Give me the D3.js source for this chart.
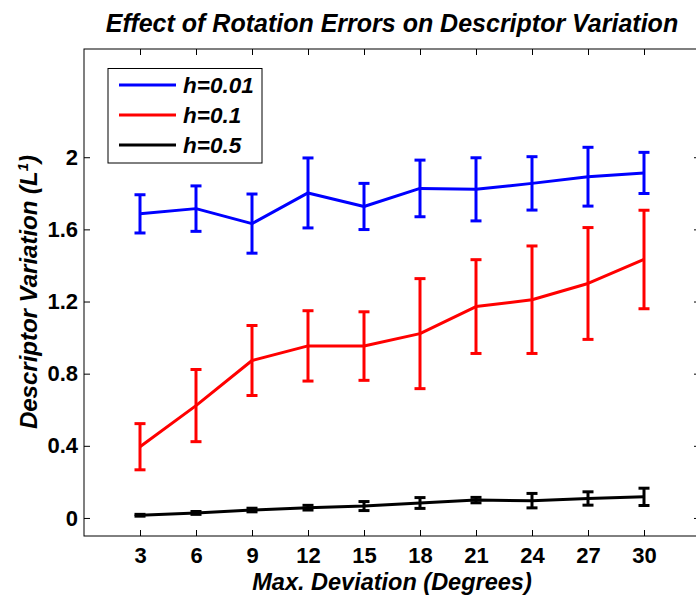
<!DOCTYPE html>
<html>
<head>
<meta charset="utf-8">
<script src="https://cdn.jsdelivr.net/npm/d3@7"></script>
<style>
  html, body { margin: 0; padding: 0; background: #fff; overflow: hidden; }
  svg { display: block; }
  text { font-family: "Liberation Sans", Arial, Helvetica, sans-serif; }
</style>
</head>
<body>
<svg id="chart" width="696" height="597"></svg>
<script>
// ---- data ----
const deviations = [3, 6, 9, 12, 15, 18, 21, 24, 27, 30];
const seriesNames = ["h=0.01", "h=0.1", "h=0.5"];
const seriesColors = ["#0000ff", "#ff0000", "#000000"];
const meanH001 = [1.686, 1.715, 1.632, 1.802, 1.727, 1.827, 1.822, 1.855, 1.892, 1.913];
const errH001  = [0.106, 0.126, 0.164, 0.194, 0.128, 0.157, 0.175, 0.148, 0.163, 0.114];
const meanH01  = [0.395, 0.623, 0.873, 0.954, 0.953, 1.022, 1.172, 1.210, 1.300, 1.433];
const errH01   = [0.128, 0.200, 0.194, 0.195, 0.190, 0.305, 0.260, 0.298, 0.310, 0.273];
const meanH05  = [0.015, 0.028, 0.044, 0.057, 0.066, 0.083, 0.099, 0.096, 0.108, 0.117];
const errH05   = [0.005, 0.008, 0.010, 0.013, 0.025, 0.030, 0.015, 0.040, 0.037, 0.048];
const xTicks = [3, 6, 9, 12, 15, 18, 21, 24, 27, 30];
const yTicks = [0, 0.4, 0.8, 1.2, 1.6, 2];
const titleText = "Effect of Rotation Errors on Descriptor Variation";
const xLabel = "Max. Deviation (Degrees)";

const series = [
  { name: seriesNames[0], color: seriesColors[0], mean: meanH001, err: errH001 },
  { name: seriesNames[1], color: seriesColors[1], mean: meanH01,  err: errH01 },
  { name: seriesNames[2], color: seriesColors[2], mean: meanH05,  err: errH05 }
];

// ---- layout ----
const L = 84, R = 700, T = 49, B = 536;
const svg = d3.select("#chart");
const x = d3.scaleLinear().domain([0, 33]).range([L, R]);
const y = d3.scaleLinear().domain([-0.1, 2.6]).range([B, T]);

// axes box
svg.append("rect").attr("x", L).attr("y", T).attr("width", R - L).attr("height", B - T)
  .attr("fill", "none").attr("stroke", "#000").attr("stroke-width", 1);

const fmtY = d => (d === 0 ? "0" : d3.format(".1f")(d).replace(/\.0$/, ""));
function styleAxis(g, showLabels) {
  g.select(".domain").remove();
  g.selectAll(".tick line").attr("stroke", "#000").attr("stroke-width", 1);
  g.selectAll(".tick text")
    .attr("font-family", "'Liberation Sans', Arial, sans-serif")
    .attr("font-weight", "bold").attr("font-size", 22).attr("fill", "#000");
  if (!showLabels) g.selectAll(".tick text").remove();
}
svg.append("g").attr("transform", `translate(0,${B})`)
  .call(d3.axisBottom(x).tickValues(xTicks).tickSize(-6).tickPadding(11).tickFormat(d3.format("d")))
  .call(g => styleAxis(g, true));
svg.append("g").attr("transform", `translate(0,${T})`)
  .call(d3.axisTop(x).tickValues(xTicks).tickSize(-6))
  .call(g => styleAxis(g, false));
svg.append("g").attr("transform", `translate(${L},0)`)
  .call(d3.axisLeft(y).tickValues(yTicks).tickSize(-6).tickPadding(6).tickFormat(fmtY))
  .call(g => styleAxis(g, true));
svg.append("g").attr("transform", `translate(${R},0)`)
  .call(d3.axisRight(y).tickValues(yTicks).tickSize(-6))
  .call(g => styleAxis(g, false));

// series
const line = d3.line().x((d, i) => x(deviations[i])).y(d => y(d));
const capW = 5.5;
series.forEach(s => {
  const g = svg.append("g");
  g.append("path").datum(s.mean).attr("d", line)
    .attr("fill", "none").attr("stroke", s.color).attr("stroke-width", 3)
    .attr("stroke-linejoin", "round");
  const eb = g.selectAll("g.eb").data(s.mean).enter().append("g");
  eb.append("line")
    .attr("x1", (d, i) => x(deviations[i])).attr("x2", (d, i) => x(deviations[i]))
    .attr("y1", (d, i) => y(d - s.err[i])).attr("y2", (d, i) => y(d + s.err[i]))
    .attr("stroke", s.color).attr("stroke-width", 3);
  eb.append("line")
    .attr("x1", (d, i) => x(deviations[i]) - capW).attr("x2", (d, i) => x(deviations[i]) + capW)
    .attr("y1", (d, i) => y(d + s.err[i])).attr("y2", (d, i) => y(d + s.err[i]))
    .attr("stroke", s.color).attr("stroke-width", 3);
  eb.append("line")
    .attr("x1", (d, i) => x(deviations[i]) - capW).attr("x2", (d, i) => x(deviations[i]) + capW)
    .attr("y1", (d, i) => y(d - s.err[i])).attr("y2", (d, i) => y(d - s.err[i]))
    .attr("stroke", s.color).attr("stroke-width", 3);
});

// legend
const lg = svg.append("g");
lg.append("rect").attr("x", 108).attr("y", 68.5).attr("width", 154).attr("height", 94.5)
  .attr("fill", "#fff").attr("stroke", "#000").attr("stroke-width", 1);
series.forEach((s, i) => {
  const yy = 85 + i * 30;
  lg.append("line").attr("x1", 119).attr("x2", 176).attr("y1", yy).attr("y2", yy)
    .attr("stroke", s.color).attr("stroke-width", 3);
  lg.append("text").attr("x", 183).attr("y", yy + 8).text(s.name)
    .attr("font-weight", "bold").attr("font-style", "italic").attr("font-size", 22.5).attr("fill", "#000");
});

// title and labels
svg.append("text").attr("x", (L + R) / 2).attr("y", 32).attr("text-anchor", "middle")
  .attr("font-weight", "bold").attr("font-style", "italic").attr("font-size", 25)
  .text(titleText);
svg.append("text").attr("x", (L + R) / 2).attr("y", 590).attr("text-anchor", "middle")
  .attr("font-weight", "bold").attr("font-style", "italic").attr("font-size", 23.5)
  .text(xLabel);
const yl = svg.append("text")
  .attr("transform", "translate(37,292) rotate(-90)").attr("text-anchor", "middle")
  .attr("font-weight", "bold").attr("font-style", "italic").attr("font-size", 24);
yl.append("tspan").text("Descriptor Variation (L");
yl.append("tspan").attr("font-size", 15).attr("dy", -9).text("1");
yl.append("tspan").attr("dy", 9).text(")");
</script>
</body>
</html>
